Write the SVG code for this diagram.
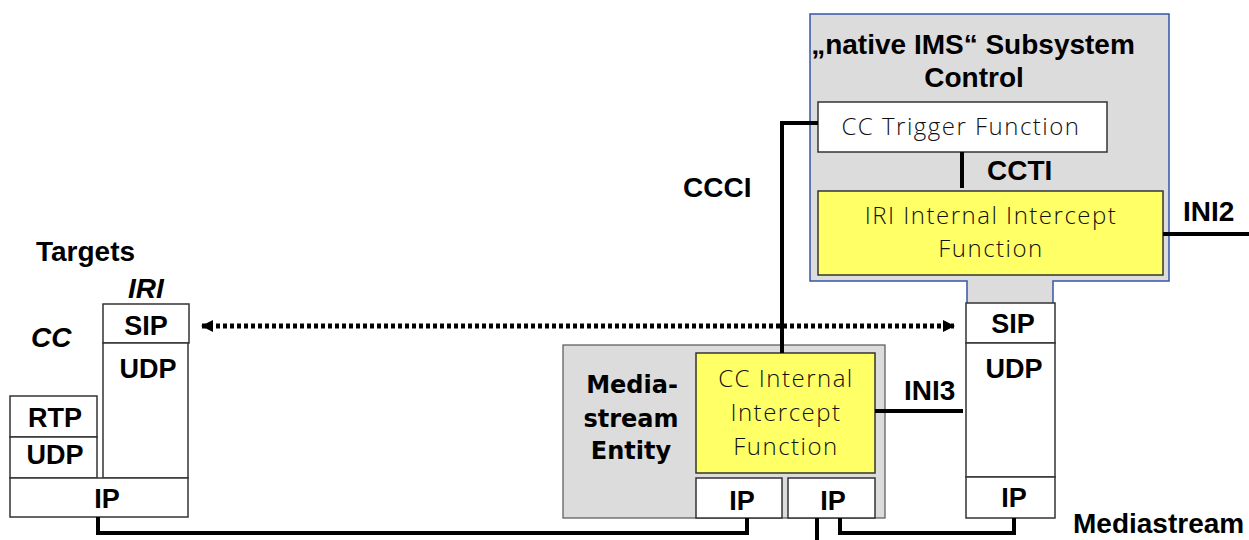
<svg xmlns="http://www.w3.org/2000/svg" width="1249" height="540" viewBox="0 0 1249 540">
<defs>
<style>
.lbl{font-family:"Liberation Sans",Arial,sans-serif;font-weight:bold;font-size:28px;fill:#000}
.stk{font-family:"Liberation Sans",Arial,sans-serif;font-weight:bold;font-size:27px;fill:#000;text-anchor:middle}
.thin{font-family:"Open Sans","DejaVu Sans",sans-serif;font-weight:300;font-size:24px;letter-spacing:1.5px;fill:#111;text-anchor:middle}
.ent{font-family:"DejaVu Sans",sans-serif;font-weight:bold;font-size:24px;fill:#000;text-anchor:middle}
.box{fill:#fff;stroke:#333;stroke-width:1.5}
.yel{fill:#ffff66;stroke:#333;stroke-width:1.5}
.gray{fill:#dcdcdc;stroke:#555;stroke-width:1.2}
.wire{fill:none;stroke:#000;stroke-width:4}
</style>
<marker id="ah" viewBox="0 0 12 12" refX="11" refY="6" markerWidth="12" markerHeight="12" markerUnits="userSpaceOnUse" orient="auto-start-reverse">
<path d="M0,0 L12,6 L0,12 Z" fill="#000"/>
</marker>
</defs>

<g id="ims">
<path d="M810,14 H1169 V281 H1053 V303 H967 V281 H810 Z" fill="#dcdcdc"/>
<path d="M967,303 V281 H810 V14 H1169 V281 H1053 V303" fill="none" stroke="#3355aa" stroke-width="1.5"/>
<text class="lbl" x="973" y="54" text-anchor="middle">„native IMS“ Subsystem</text>
<text class="lbl" x="974" y="87" text-anchor="middle">Control</text>
</g>

<g id="cc-trigger">
<rect class="box" x="818" y="102" width="289" height="50"/>
<text class="thin" x="961" y="135">CC Trigger Function</text>
</g>

<g id="iri-iif">
<rect class="yel" x="818" y="191" width="345" height="84"/>
<text class="thin" x="991" y="224">IRI Internal Intercept</text>
<text class="thin" x="991" y="257">Function</text>
</g>

<g id="mediastream-entity">
<rect class="gray" x="563" y="345" width="322" height="173"/>
<text class="ent" x="632" y="393">Media-</text>
<text class="ent" x="631" y="427">stream</text>
<text class="ent" x="631" y="459">Entity</text>
</g>

<g id="cc-iif">
<rect class="yel" x="696" y="353" width="179" height="120"/>
<text class="thin" x="786" y="387">CC Internal</text>
<text class="thin" x="786" y="421">Intercept</text>
<text class="thin" x="786" y="455">Function</text>
</g>

<g id="ms-ip1">
<rect class="box" x="696" y="478" width="86" height="40"/>
<text class="stk" x="742" y="510">IP</text>
</g>
<g id="ms-ip2">
<rect class="box" x="788" y="478" width="87" height="40"/>
<text class="stk" x="833" y="510">IP</text>
</g>

<g id="target-stack">
<rect class="box" x="103" y="304" width="86" height="39"/>
<text class="stk" x="146" y="335">SIP</text>
<rect class="box" x="103" y="343" width="85" height="135"/>
<text class="stk" x="148" y="378">UDP</text>
<rect class="box" x="10" y="396" width="87" height="41"/>
<text class="stk" x="55" y="427">RTP</text>
<rect class="box" x="10" y="437" width="87" height="41"/>
<text class="stk" x="55" y="464">UDP</text>
<rect class="box" x="10" y="478" width="178" height="39"/>
<text class="stk" x="107" y="508">IP</text>
</g>

<g id="target-labels">
<text class="lbl" x="36" y="261">Targets</text>
<text class="lbl" x="128" y="298" font-style="italic">IRI</text>
<text class="lbl" x="31" y="347" font-style="italic">CC</text>
</g>

<g id="ims-stack">
<rect class="box" x="966" y="303" width="89" height="40"/>
<text class="stk" x="1013" y="333">SIP</text>
<rect class="box" x="966" y="343" width="89" height="134"/>
<text class="stk" x="1014" y="378">UDP</text>
<rect class="box" x="966" y="477" width="89" height="41"/>
<text class="stk" x="1014" y="507">IP</text>
</g>

<g id="connectors">
<path class="wire" d="M818,123 H782 V353"/>
<path class="wire" d="M962,152 V188"/>
<path class="wire" d="M1163,234 H1249"/>
<path class="wire" d="M875,411 H963"/>
<path class="wire" d="M98,517 V533 H747 V518"/>
<path class="wire" d="M817,518 V540"/>
<path class="wire" d="M840,518 V533 H1014 V518"/>
<line x1="202" y1="326" x2="954" y2="326" stroke="#000" stroke-width="5" stroke-dasharray="4 3" marker-start="url(#ah)" marker-end="url(#ah)"/>
<text class="lbl" x="683" y="197">CCCI</text>
<text class="lbl" x="987" y="180">CCTI</text>
<text class="lbl" x="1183" y="221">INI2</text>
<text class="lbl" x="904" y="400">INI3</text>
<text class="lbl" x="1073" y="533">Mediastream</text>
</g>
</svg>
